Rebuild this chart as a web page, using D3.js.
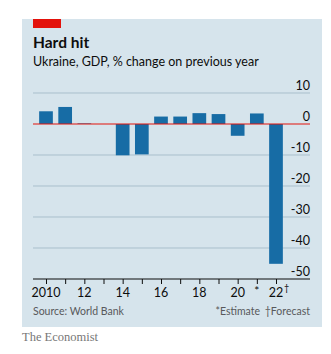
<!DOCTYPE html>
<html>
<head>
<meta charset="utf-8">
<script src="https://cdn.jsdelivr.net/npm/d3@7"></script>
<style>
  body { margin: 0; background: #fff; }
  svg { display: block; }
</style>
</head>
<body>
<svg></svg>
<script>
var years = [2010, 2011, 2012, 2013, 2014, 2015, 2016, 2017, 2018, 2019, 2020, 2021, 2022];
var gdpChange = [4.1, 5.5, 0.2, 0.0, -10.1, -9.8, 2.4, 2.4, 3.5, 3.2, -3.8, 3.4, -45.1];
var yTicks = [10, 0, -10, -20, -30, -40, -50];
var xLabelYears = [2010, 2012, 2014, 2016, 2018, 2020, 2022];
var xLabels = ["2010", "12", "14", "16", "18", "20", "22"];

var svgWidth = 331, svgHeight = 354;
var plotLeft = 33, plotRight = 310;
var font = "Lato, 'Open Sans', sans-serif";
var svg = d3.select("svg").attr("width", svgWidth).attr("height", svgHeight);

var xScale = d3.scaleLinear().domain([2010, 2022]).range([46, 276]);
var barWidth = 13.7;
var yScale = d3.scaleLinear().domain([10, -50]).range([93, 279]);

// panel
svg.append("rect").attr("x", 22).attr("y", 19).attr("width", 300).attr("height", 308)
  .attr("fill", "#d6e4ec");
svg.append("rect").attr("x", 33).attr("y", 19).attr("width", 28).attr("height", 9)
  .attr("fill", "#e3120b");

svg.append("text").attr("x", 33).attr("y", 48)
  .attr("font-family", font).attr("font-weight", "bold")
  .attr("font-size", 15.5).attr("fill", "#0d0d0d").text("Hard hit");
svg.append("text").attr("x", 33).attr("y", 66)
  .attr("font-family", font)
  .attr("font-size", 12.5).attr("fill", "#0d0d0d").text("Ukraine, GDP, % change on previous year");

// gridlines + y labels
yTicks.forEach(function(t) {
  if (t !== 0 && t !== -50) {
    svg.append("line").attr("x1", plotLeft).attr("x2", plotRight)
      .attr("y1", yScale(t)).attr("y2", yScale(t))
      .attr("stroke", "#a9bfcc").attr("stroke-width", 1);
  }
  svg.append("text").attr("x", plotRight).attr("y", yScale(t) - 3)
    .attr("text-anchor", "end")
    .attr("font-family", font)
    .attr("font-size", 12.5).attr("fill", "#0d0d0d").text(t);
});

// bars
svg.selectAll("rect.bars")
  .data(gdpChange)
  .enter()
  .append("rect")
  .attr("class", "bars")
  .attr("x", function(d, i) { return xScale(years[i]) - barWidth / 2; })
  .attr("y", function(d) { return yScale(Math.max(d, 0)); })
  .attr("width", barWidth)
  .attr("height", function(d) { return Math.abs(yScale(d) - yScale(0)); })
  .attr("fill", "#176ca5");

// zero line
svg.append("line").attr("x1", plotLeft).attr("x2", plotRight)
  .attr("y1", yScale(0)).attr("y2", yScale(0))
  .attr("stroke", "#e3120b").attr("stroke-width", 1);

// x axis
var xAxis = d3.axisBottom(xScale).tickValues(years).tickSize(5).tickFormat("");
var gx = svg.append("g").attr("transform", "translate(0," + yScale(-50) + ")").call(xAxis);
gx.select(".domain").attr("d", "M" + plotLeft + ",0H" + plotRight).attr("stroke", "#0d0d0d");
gx.selectAll(".tick line").attr("stroke", "#0d0d0d");

svg.selectAll("text.xlab")
  .data(xLabelYears)
  .enter()
  .append("text")
  .attr("class", "xlab")
  .attr("x", function(d) { return xScale(d); })
  .attr("y", 297)
  .attr("text-anchor", "middle")
  .attr("font-family", font)
  .attr("font-size", 12.5).attr("fill", "#0d0d0d")
  .text(function(d, i) { return xLabels[i]; });
svg.append("text").attr("x", xScale(2022) + 8).attr("y", 291)
  .attr("font-family", font)
  .attr("font-size", 9).attr("fill", "#0d0d0d").text("†");
svg.append("text").attr("x", xScale(2021)).attr("y", 295)
  .attr("text-anchor", "middle")
  .attr("font-family", font)
  .attr("font-size", 12).attr("fill", "#0d0d0d").text("*");

// footer
svg.append("text").attr("x", 33).attr("y", 315)
  .attr("font-family", font)
  .attr("font-size", 10.5).attr("fill", "#58595b").text("Source: World Bank");
svg.append("text").attr("x", 260).attr("y", 315).attr("text-anchor", "end")
  .attr("font-family", font)
  .attr("font-size", 10.5).attr("fill", "#58595b").text("*Estimate");
svg.append("text").attr("x", plotRight).attr("y", 315).attr("text-anchor", "end")
  .attr("font-family", font)
  .attr("font-size", 10.5).attr("fill", "#58595b").text("†Forecast");
svg.append("text").attr("x", 22).attr("y", 341)
  .attr("font-family", "'Liberation Serif', serif")
  .attr("font-size", 12.5).attr("fill", "#777777").text("The Economist");
</script>
</body>
</html>
